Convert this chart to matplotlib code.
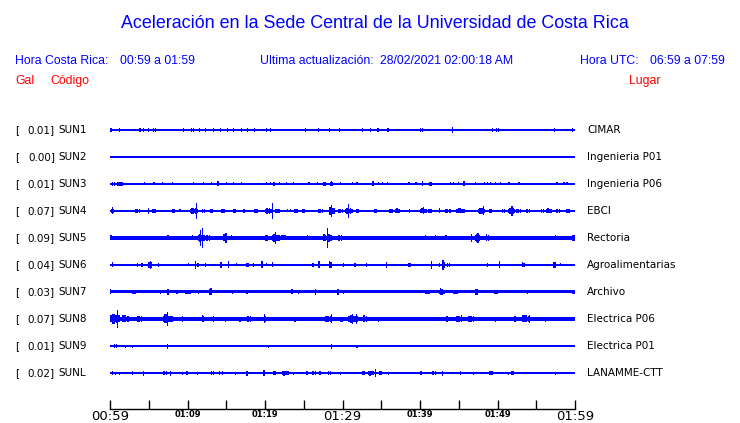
import matplotlib
matplotlib.use('Agg')
import matplotlib.pyplot as plt
import matplotlib.transforms as mtransforms

# stations, top to bottom
codes = ['SUN1', 'SUN2', 'SUN3', 'SUN4', 'SUN5', 'SUN6', 'SUN7', 'SUN8', 'SUN9', 'SUNL']
places = ['CIMAR', 'Ingenieria P01', 'Ingenieria P06', 'EBCI', 'Rectoria',
          'Agroalimentarias', 'Archivo', 'Electrica P06', 'Electrica P01', 'LANAMME-CTT']
peak_gal = ['0.01', '0.00', '0.01', '0.07', '0.09', '0.04', '0.03', '0.07', '0.01', '0.02']

# background noise level of each trace (half width, screen px)
noise_level = [0.6, 0.6, 0.7, 0.8, 1.9, 0.6, 1.5, 1.9, 0.6, 0.6]

# bursts: (start minute, end minute, half amplitude px)
bursts_sun1 = [(0.0, 0.3, 2), (1.1, 1.1, 1.8), (3.8, 3.8, 1.8), (4.3, 4.3, 1.8), (4.9, 4.9, 1.8),
               (5.5, 5.5, 1.8), (5.8, 5.8, 1.8), (9.4, 9.4, 1.8), (10.4, 10.4, 1.8), (10.7, 10.7, 1.8),
               (11.5, 11.5, 1.8), (12.3, 12.3, 1.8), (13.3, 13.3, 1.8), (14.2, 14.2, 1.8), (15.1, 15.1, 1.8),
               (15.9, 15.9, 1.8), (16.9, 16.9, 1.8), (17.7, 17.7, 1.8), (18.6, 18.6, 1.8), (20.1, 20.1, 2),
               (20.6, 20.6, 2), (25.2, 25.2, 1.8), (26.8, 27.0, 2), (28.2, 28.2, 1.8), (29.5, 29.5, 2),
               (32.5, 32.5, 1.8), (33.5, 33.6, 2), (34.5, 34.5, 1.8), (35.8, 36.0, 2), (40.0, 40.0, 1.8),
               (40.3, 40.3, 1.8), (44.1, 44.3, 3), (49.3, 49.3, 1.8), (49.8, 49.8, 1.8), (50.0, 50.0, 1.8),
               (57.3, 57.3, 1.8), (59.6, 59.6, 1.8)]
bursts_sun2 = []
bursts_sun3 = [(0.2, 0.65, 2), (0.86, 1.7, 2.2), (4.4, 4.4, 1.5), (5.6, 5.6, 1.5), (6.75, 6.75, 1.5),
               (7.96, 7.96, 1.5), (10.75, 10.75, 1.5), (12.0, 12.0, 1.5), (13.0, 13.0, 1.5), (13.8, 14.1, 2.5),
               (15.0, 15.0, 1.5), (15.9, 15.9, 1.5), (16.9, 16.9, 1.5), (20.1, 20.1, 1.5), (20.6, 20.6, 1.5),
               (21.0, 21.3, 2), (21.8, 21.8, 1.5), (22.7, 22.7, 1.5), (23.65, 23.65, 1.5), (25.6, 25.6, 1.5),
               (26.7, 26.7, 1.5), (27.4, 28.0, 2), (28.4, 28.8, 2.5), (29.7, 29.7, 1.5), (31.2, 31.2, 1.5),
               (31.8, 31.8, 1.5), (33.8, 34.0, 2.5), (34.6, 34.6, 1.5), (35.1, 35.1, 1.5), (35.7, 35.7, 1.5),
               (38.5, 38.5, 1.5), (39.4, 39.4, 1.5), (40.2, 40.4, 2.5), (41.1, 41.5, 2), (43.9, 43.9, 1.5),
               (44.3, 44.3, 1.5), (44.9, 44.9, 1.5), (45.5, 45.8, 2.5), (47.1, 47.1, 1.5), (48.2, 48.2, 1.5),
               (48.6, 48.6, 1.5), (49.0, 49.0, 1.5), (49.7, 49.7, 1.5), (50.3, 50.3, 1.5), (51.4, 51.4, 1.5),
               (52.7, 52.7, 1.5), (57.6, 57.6, 1.5), (58.5, 58.5, 1.5), (58.9, 58.9, 1.5)]
bursts_sun4 = [(0.0, 0.65, 2), (0.3, 0.3, 3.5), (1.08, 1.08, 1.3), (1.4, 1.4, 1.3), (1.8, 1.8, 1.3),
               (2.15, 2.15, 1.3), (2.5, 2.5, 1.3), (3.0, 4.2, 2), (4.86, 4.86, 3), (5.16, 6.67, 1.7),
               (7.1, 7.1, 1.3), (7.5, 7.5, 1.3), (7.96, 8.4, 2.3), (8.8, 9.46, 1.5), (10.3, 11.4, 3.3),
               (11.14, 11.14, 8), (11.8, 12.26, 2), (12.7, 13.8, 1.7), (14.2, 15.4, 1.7), (15.8, 16.6, 1.7),
               (17.0, 17.8, 1.7), (18.3, 19.8, 1.7), (20.0, 20.9, 3.3), (20.9, 20.9, 8), (21.1, 22.15, 2),
               (22.8, 22.8, 1.5), (23.2, 23.2, 1.5), (23.65, 24.5, 2), (24.7, 25.6, 1.7), (26.7, 27.7, 2),
               (28.2, 29.0, 4), (28.5, 28.5, 6), (29.25, 30.3, 2), (30.3, 31.4, 3), (30.75, 30.75, 7),
               (31.6, 32.7, 1.7), (33.1, 33.1, 1.3), (33.5, 33.5, 1.3), (34.0, 34.6, 2), (35.3, 35.3, 1.3),
               (35.7, 35.7, 1.3), (35.9, 36.6, 2), (36.8, 37.4, 2.5), (38.5, 38.9, 1.7), (39.4, 39.6, 1.3),
               (40.0, 40.9, 2.5), (40.35, 40.35, 3.5), (40.9, 42.2, 1.7), (42.4, 42.6, 2.5), (43.0, 44.3, 2),
               (44.7, 45.8, 2.5), (46.2, 46.2, 1.3), (47.5, 48.4, 3.3), (48.1, 48.1, 4.5), (48.8, 49.9, 1.7),
               (50.5, 51.0, 2), (51.4, 52.3, 3.3), (51.8, 51.8, 5), (52.3, 53.2, 2), (53.5, 54.4, 2),
               (54.8, 54.8, 1.3), (55.5, 56.1, 2), (56.3, 57.0, 2.5), (57.4, 58.3, 2), (58.7, 60.0, 1.7)]
bursts_sun5 = [(0.0, 0.2, 2.5), (2.6, 2.6, 2.3), (3.2, 3.2, 2.3), (5.4, 5.4, 2.3), (7.4, 7.4, 2.5),
               (9.25, 9.25, 2.3), (9.7, 9.9, 2.3), (10.5, 11.0, 2.5), (11.3, 12.3, 4), (11.6, 11.6, 8),
               (11.9, 11.9, 10), (12.3, 13.1, 3), (14.4, 15.35, 3.5), (14.9, 14.9, 5), (15.5, 15.9, 2.5),
               (20.0, 20.4, 3), (20.9, 21.9, 4), (21.3, 21.3, 6), (21.9, 23.4, 2.5), (25.4, 25.4, 2.5),
               (27.3, 28.1, 3.5), (28.04, 28.04, 10), (28.1, 28.6, 4), (29.25, 30.2, 3), (33.3, 33.3, 2.3),
               (34.8, 35.5, 2.3), (40.6, 40.6, 2.5), (41.9, 41.9, 2.5), (43.2, 43.65, 2.5), (46.6, 46.6, 4),
               (47.1, 47.7, 4), (47.4, 47.4, 5), (48.4, 49.0, 3.5), (51.2, 51.2, 2.3), (57.4, 57.4, 2.5),
               (59.6, 60.0, 3)]
bursts_sun6 = [(0.2, 0.2, 2.5), (3.5, 3.5, 1.8), (4.0, 4.3, 2), (4.86, 5.46, 3), (5.16, 5.16, 4),
               (6.15, 6.15, 2), (10.0, 10.0, 1.5), (11.0, 11.0, 4), (11.2, 11.5, 2), (12.26, 12.26, 2),
               (14.2, 14.4, 3), (15.2, 15.2, 3.5), (16.3, 16.3, 1.5), (17.6, 17.9, 2), (18.4, 18.4, 2),
               (19.5, 19.8, 3.5), (20.1, 20.1, 1.5), (20.9, 20.9, 2.5), (26.0, 26.3, 2), (26.9, 26.9, 3.5),
               (28.2, 28.6, 3.5), (30.0, 30.0, 2), (31.4, 31.8, 2), (33.0, 33.0, 2), (35.6, 35.6, 3),
               (38.4, 38.9, 2), (41.4, 41.4, 4), (42.4, 42.4, 2), (42.8, 43.2, 3.5), (42.9, 42.9, 5),
               (43.4, 43.9, 2), (46.2, 46.2, 1.3), (48.6, 48.6, 2), (50.2, 50.2, 3.5), (53.1, 53.5, 2.5),
               (57.2, 57.5, 3), (58.1, 58.1, 1.5)]
bursts_sun7 = [(0.0, 0.0, 2.5), (2.8, 3.4, 2.2), (6.45, 6.45, 2), (7.3, 7.6, 2.8), (8.4, 8.8, 2),
               (9.7, 10.5, 2.2), (11.3, 11.3, 2), (12.8, 13.1, 3), (12.95, 12.95, 3.5), (15.7, 15.9, 2.2),
               (17.6, 17.6, 2), (23.4, 23.4, 2.5), (24.3, 24.3, 2.2), (26.4, 26.4, 3), (29.25, 29.5, 3),
               (30.1, 30.1, 2), (40.6, 41.3, 2.2), (42.4, 43.2, 3), (42.6, 42.6, 3.5), (44.3, 44.9, 2.2),
               (47.1, 47.5, 2.8), (47.3, 47.3, 3.2), (49.5, 50.1, 2), (53.8, 53.8, 2.2), (59.6, 60.0, 2.2)]
bursts_sun8 = [(0.0, 1.3, 5), (0.86, 0.86, 9), (1.3, 2.8, 3.5), (3.4, 4.3, 3), (6.9, 7.7, 4.5),
               (7.3, 7.3, 7), (7.7, 8.2, 3), (9.3, 9.3, 3), (11.8, 12.2, 3.5), (13.3, 13.3, 3),
               (14.8, 14.8, 2.5), (16.6, 16.9, 2.5), (17.6, 18.3, 3), (19.8, 20.2, 3.5), (19.9, 19.9, 4.5),
               (23.65, 24.3, 2.5), (27.5, 29.0, 3), (28.5, 28.5, 4.5), (29.5, 30.5, 2.5), (30.75, 32.0, 4),
               (31.2, 31.2, 5), (31.7, 31.7, 5), (32.5, 33.3, 3.5), (34.6, 34.6, 2.5), (43.4, 43.4, 3),
               (44.6, 45.2, 3), (45.25, 45.25, 3.5), (46.0, 47.3, 3), (49.7, 49.7, 2.5), (52.0, 52.5, 3),
               (52.9, 54.6, 3.5), (54.0, 54.0, 4), (56.1, 56.1, 2.5), (57.4, 59.6, 2.2)]
bursts_sun9 = [(0.4, 1.0, 2), (1.9, 1.9, 1.5), (2.8, 2.8, 1.5), (7.3, 7.3, 2.5), (20.4, 20.4, 1.5),
               (28.5, 28.5, 2.5), (31.8, 31.8, 1.5)]
bursts_sunl = [(0.2, 0.2, 2), (0.65, 0.65, 1.5), (1.1, 1.1, 1.5), (2.8, 2.8, 2), (4.2, 4.4, 2.5),
               (6.9, 6.9, 2), (7.2, 7.2, 2), (7.7, 7.7, 2.5), (9.25, 9.25, 1.5), (9.7, 10.1, 2),
               (11.2, 11.2, 1.5), (12.9, 13.5, 2), (14.0, 14.0, 2), (14.4, 14.4, 2), (16.1, 16.1, 1.5),
               (17.6, 17.8, 2.5), (19.8, 19.8, 3), (21.0, 21.5, 2), (22.15, 23.1, 2.5), (23.65, 23.65, 1.5),
               (25.2, 25.6, 2), (26.0, 26.7, 2), (26.9, 27.3, 2), (28.0, 28.6, 2), (29.7, 29.7, 1.5),
               (32.5, 32.9, 2), (33.3, 34.0, 2.5), (34.2, 34.2, 4), (34.6, 35.1, 2), (35.9, 35.9, 1.5),
               (40.0, 40.2, 2), (41.5, 42.2, 2), (42.8, 42.8, 2.5), (45.1, 45.1, 2), (46.8, 46.8, 1.5),
               (48.8, 49.5, 2), (51.3, 51.3, 1.5), (51.8, 52.1, 2), (57.4, 57.4, 1.5)]

bursts = [bursts_sun1, bursts_sun2, bursts_sun3, bursts_sun4, bursts_sun5,
          bursts_sun6, bursts_sun7, bursts_sun8, bursts_sun9, bursts_sunl]

# time axis, minutes after 00:59
tick_minutes = [0, 5, 10, 15, 20, 25, 30, 35, 40, 45, 50, 55, 60]
tick_labels = ['00:59', '', '01:09', '', '01:19', '', '01:29', '', '01:39', '', '01:49', '', '01:59']
span_minutes = 60

W, H = 740, 423
fig = plt.figure(figsize=(W / 100, H / 100), dpi=100)
ax = fig.add_axes([110 / W, (H - 409) / H, 465 / W, 309 / H])

px = 1 / 27.0   # one screen pixel in row units
blue = '#0000ff'


def block(ax, x0, x1, row, half):
    w = max(x1 - x0, 0.15)
    ax.bar(x0 + w / 2, 2 * half * px, width=w, bottom=row - half * px, color=blue, linewidth=0)


for i in range(len(codes)):
    ax.barh(i, span_minutes, left=0, height=2 * noise_level[i] * px, color=blue, linewidth=0)
    for t0, t1, amp in bursts[i]:
        w = t1 - t0
        if w < 0.35:
            block(ax, t0, t1, i, amp)
        else:
            # blocky envelope: wide low part plus a taller core near the onset
            block(ax, t0, t1, i, max(0.7 * amp, noise_level[i]))
            block(ax, t0 + 0.15 * w, t0 + 0.5 * w, i, amp)
            block(ax, t0 + 0.6 * w, t0 + 0.75 * w, i, 0.85 * amp)

ax.set_xlim(0, span_minutes)
ax.set_ylim((409 - 130) / 27.0, -30 / 27.0)
ax.set_yticks([])
for s in ['top', 'left', 'right']:
    ax.spines[s].set_visible(False)
ax.spines['bottom'].set_linewidth(1.0)
ax.set_xticks(tick_minutes)
ax.set_xticklabels(tick_labels)
ax.tick_params(axis='x', direction='in', length=6.5, width=1.0, pad=1)
for lab in ax.get_xticklabels():
    if lab.get_text() in ('00:59', '01:29', '01:59'):
        lab.set_fontsize(9.5)
    else:
        lab.set_fontsize(6)
        lab.set_fontweight('bold')

# row labels on both sides
trans = mtransforms.blended_transform_factory(fig.transFigure, ax.transData)
for i in range(len(codes)):
    ax.text(15 / W, i, '[', transform=trans, ha='left', va='center', fontsize=7.5)
    ax.text(55 / W, i, peak_gal[i] + ']', transform=trans, ha='right', va='center', fontsize=7.5)
    ax.text(58 / W, i, codes[i], transform=trans, ha='left', va='center', fontsize=7.5)
    ax.text(587 / W, i, places[i], transform=trans, ha='left', va='center', fontsize=7.5)

# header
hfont = 'Liberation Sans'
fig.text(375 / W, 1 - 23 / H, 'Aceleración en la Sede Central de la Universidad de Costa Rica',
         ha='center', va='center', color=blue, fontsize=12.9, family=hfont)
fig.text(15 / W, 1 - 61 / H, 'Hora Costa Rica:', ha='left', va='center', color=blue, fontsize=8.8, family=hfont)
fig.text(120 / W, 1 - 61 / H, '00:59 a 01:59', ha='left', va='center', color=blue, fontsize=8.8, family=hfont)
fig.text(260 / W, 1 - 61 / H, 'Ultima actualización:', ha='left', va='center', color=blue, fontsize=8.8, family=hfont)
fig.text(380 / W, 1 - 61 / H, '28/02/2021 02:00:18 AM', ha='left', va='center', color=blue, fontsize=8.8, family=hfont)
fig.text(580 / W, 1 - 61 / H, 'Hora UTC:', ha='left', va='center', color=blue, fontsize=8.8, family=hfont)
fig.text(650 / W, 1 - 61 / H, '06:59 a 07:59', ha='left', va='center', color=blue, fontsize=8.8, family=hfont)
fig.text(15 / W, 1 - 81 / H, 'Gal', ha='left', va='center', color='red', fontsize=8.8, family=hfont)
fig.text(50 / W, 1 - 81 / H, 'Código', ha='left', va='center', color='red', fontsize=8.8, family=hfont)
fig.text(629 / W, 1 - 81 / H, 'Lugar', ha='left', va='center', color='red', fontsize=8.8, family=hfont)

fig.savefig('out.png', dpi=100)
